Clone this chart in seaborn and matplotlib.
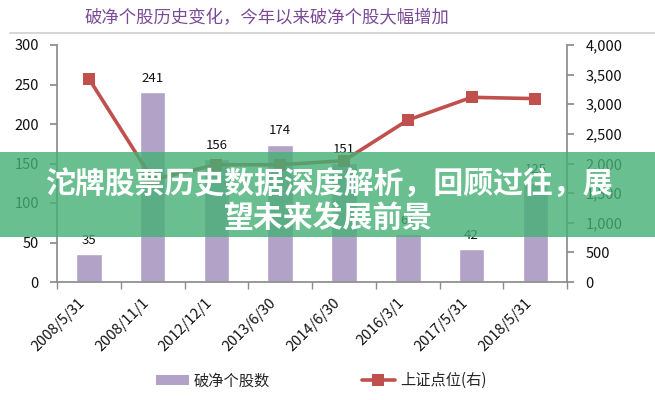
import matplotlib
matplotlib.use("Agg")
import matplotlib.pyplot as plt
import matplotlib.transforms as mtransforms
import seaborn as sns
import pandas as pd
from matplotlib.lines import Line2D
from matplotlib.patches import Patch, Rectangle

dates = ["2008/5/31", "2008/11/1", "2012/12/1", "2013/6/30", "2014/6/30",
         "2016/3/1", "2017/5/31", "2018/5/31"]
pb_count = [35, 241, 156, 174, 151, 61, 42, 125]
sh_index = [3433, 1729, 1980, 1979, 2048, 2733, 3117, 3095]
left_ticks = [0, 50, 100, 150, 200, 250, 300]
right_ticks = [0, 500, 1000, 1500, 2000, 2500, 3000, 3500, 4000]

title = "破净个股历史变化，今年以来破净个股大幅增加"
banner_l1 = "沱牌股票历史数据深度解析，回顾过往，展"
banner_l2 = "望未来发展前景"

sns.set_theme(style="white")
plt.rcParams["font.family"] = ["Noto Sans CJK SC", "DejaVu Sans"]

df = pd.DataFrame({"date": dates, "count": pb_count, "index": sh_index})

fig = plt.figure(figsize=(6.55, 4.0), dpi=100)
ax = fig.add_axes([0.087, 0.295, 0.779, 0.5925])

bar_color = "#B3A2C7"
line_color = "#C0504D"
axis_gray = "#8C8C8C"

sns.barplot(data=df, x="date", y="count", color=bar_color, width=0.4,
            saturation=1, ax=ax)
ax.set_ylim(0, 300)
ax.set_yticks(left_ticks)
for i, v in enumerate(pb_count):
    ax.text(i, v + 9, str(v), ha="center", va="bottom", fontsize=9.5, color="#111111")

ax2 = ax.twinx()
sns.lineplot(data=df, x="date", y="index", sort=False, color=line_color,
             linewidth=2.6, marker="s", markersize=8, markeredgewidth=0,
             ax=ax2)
ax2.set_ylim(0, 4000)
ax2.set_yticks(right_ticks)
ax2.set_yticklabels([f"{t:,}" for t in right_ticks])
ax.set_xlim(-0.5, len(dates) - 0.5)

for a in (ax, ax2):
    a.set_xlabel("")
    a.set_ylabel("")
    for s in a.spines.values():
        s.set_visible(False)
    a.tick_params(colors="#111111", labelsize=10.5)

ax.spines["left"].set_visible(True)
ax.spines["left"].set_color(axis_gray)
ax.spines["bottom"].set_visible(True)
ax.spines["bottom"].set_color(axis_gray)
ax2.spines["right"].set_visible(True)
ax2.spines["right"].set_color(axis_gray)

ax.tick_params(axis="y", left=True, length=5, color=axis_gray, direction="out", pad=8)
ax2.tick_params(axis="y", right=True, length=5, color=axis_gray, direction="out", pad=8)
ax.set_xticks(range(len(dates)))
ax.set_xticklabels(dates, rotation=45, ha="right", rotation_mode="anchor", fontsize=10.5)
ax.tick_params(axis="x", bottom=False, pad=4)
shift = mtransforms.ScaledTranslation(-11 / 100, 0, fig.dpi_scale_trans)
for lbl in ax.get_xticklabels():
    lbl.set_transform(lbl.get_transform() + shift)
# boundary tick marks
ax.set_xticks([i - 0.5 for i in range(len(dates) + 1)], minor=True)
ax.tick_params(axis="x", which="minor", bottom=True, length=5, color=axis_gray, direction="out")

# title and top rule
fig.text(0.407, 0.955, title, ha="center", va="center", fontsize=12.5, color="#7B4A97")
fig.add_artist(Line2D([0.015, 1.0], [0.918, 0.918], color="#D0D0D0", linewidth=1.2))

# legend
handles = [Patch(facecolor=bar_color, edgecolor="none"),
           Line2D([0], [0], color=line_color, linewidth=2.6, marker="s",
                  markersize=8, markeredgewidth=0)]
fig.legend(handles, ["破净个股数", "上证点位(右)"], loc="center", ncol=2,
           bbox_to_anchor=(0.49, 0.048), frameon=False, fontsize=11,
           columnspacing=6, handlelength=2.2, handletextpad=0.3)

# green overlay banner
fig.add_artist(Rectangle((0, 1 - 237 / 400), 1, 85 / 400, transform=fig.transFigure,
                         facecolor="#45B075", alpha=0.8, edgecolor="none", zorder=10))
fig.text(0.502, 1 - 184 / 400, banner_l1, ha="center", va="center", fontsize=21.5,
         fontweight="heavy", color="white", zorder=11)
fig.text(0.502, 1 - 218 / 400, banner_l2, ha="center", va="center", fontsize=21.5,
         fontweight="heavy", color="white", zorder=11)

fig.savefig("out.png", dpi=100)
